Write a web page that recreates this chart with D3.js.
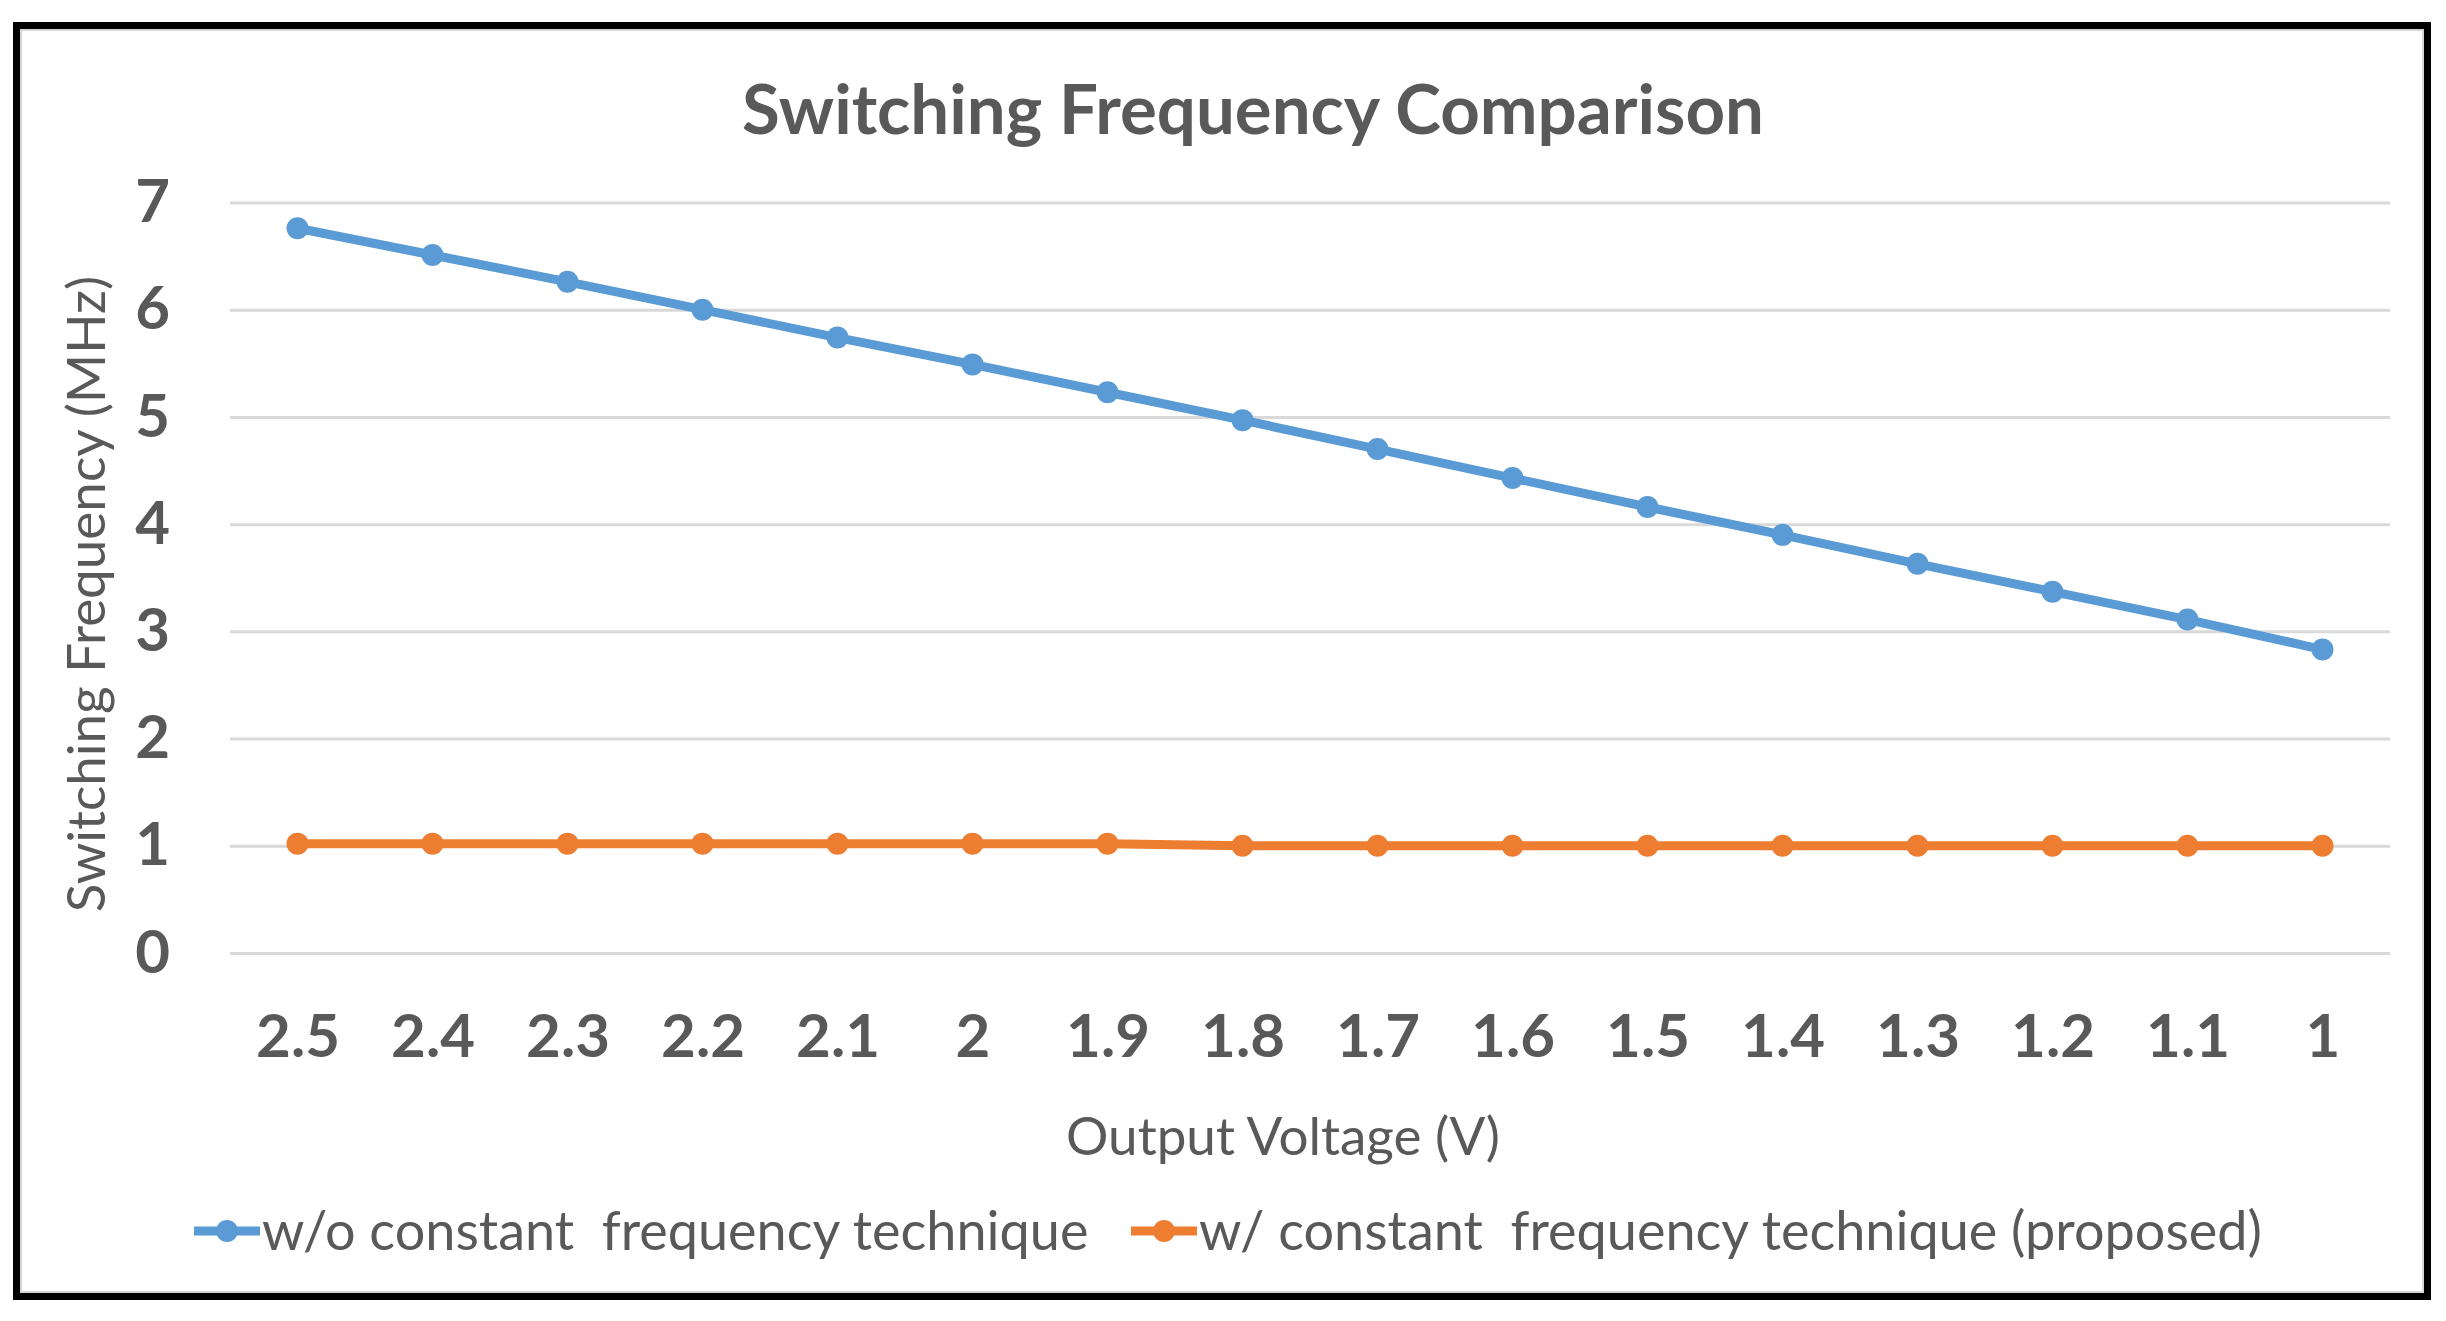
<!DOCTYPE html>
<html>
<head>
<meta charset="utf-8">
<script src="https://cdn.jsdelivr.net/npm/d3@7"></script>
<style>
  body { margin: 0; background: #fff; }
  text { font-family: Lato, "Open Sans", sans-serif; fill: #595959; }
</style>
</head>
<body>
<svg id="chart" width="2446" height="1321"></svg>
<script>
// output voltage categories (V), shown left to right
var voltages = ["2.5", "2.4", "2.3", "2.2", "2.1", "2", "1.9", "1.8", "1.7", "1.6", "1.5", "1.4", "1.3", "1.2", "1.1", "1"];
// switching frequency in MHz
var withoutCF = [6.76, 6.51, 6.26, 6.0, 5.74, 5.49, 5.23, 4.97, 4.70, 4.43, 4.16, 3.90, 3.63, 3.37, 3.11, 2.83];
var withCF = [1.02, 1.02, 1.02, 1.02, 1.02, 1.02, 1.02, 1.0, 1.0, 1.0, 1.0, 1.0, 1.0, 1.0, 1.0, 1.0];
var yTicks = [0, 1, 2, 3, 4, 5, 6, 7];
var seriesNames = ["w/o constant  frequency technique", "w/ constant  frequency technique (proposed)"];
var seriesColors = ["#5B9BD5", "#ED7D31"];

var svg = d3.select("#chart");

// frame around the whole picture
svg.append("rect")
  .attr("x", 16.5).attr("y", 25.5)
  .attr("width", 2411).attr("height", 1271)
  .attr("fill", "#fff").attr("stroke", "#000").attr("stroke-width", 7);
svg.append("rect")
  .attr("x", 21).attr("y", 30)
  .attr("width", 2402).attr("height", 1262)
  .attr("fill", "none").attr("stroke", "#d6d6d6").attr("stroke-width", 2);

var plotLeft = 230, plotRight = 2390, plotTop = 202.5, plotBottom = 953;

var xScale = d3.scalePoint()
  .domain(voltages)
  .range([plotLeft, plotRight])
  .padding(0.5);

var yScale = d3.scaleLinear()
  .domain([0, 7])
  .range([plotBottom, plotTop]);

// horizontal grid lines
var grid = d3.axisLeft(yScale)
  .tickValues(yTicks)
  .tickSize(-(plotRight - plotLeft))
  .tickFormat("");

svg.append("g")
  .attr("transform", "translate(" + plotLeft + ",0)")
  .call(grid)
  .call(function (g) { g.select(".domain").remove(); })
  .selectAll("line")
  .attr("stroke", "#d9d9d9")
  .attr("stroke-width", 3);

// left axis labels
var laxis = d3.axisLeft(yScale)
  .tickValues(yTicks)
  .tickFormat(d3.format("d"))
  .tickSize(0)
  .tickPadding(60);

svg.append("g")
  .attr("transform", "translate(" + plotLeft + ",0)")
  .call(laxis)
  .call(function (g) { g.select(".domain").remove(); })
  .selectAll("text")
  .style("font-family", "Lato, sans-serif")
  .style("font-size", "60px")
  .style("font-weight", "bold")
  .attr("fill", "#595959");

// bottom axis labels
var baxis = d3.axisBottom(xScale)
  .tickSize(0);

svg.append("g")
  .attr("transform", "translate(0," + plotBottom + ")")
  .call(baxis)
  .call(function (g) { g.select(".domain").remove(); })
  .selectAll("text")
  .attr("y", 83)
  .attr("dy", "0.35em")
  .style("font-family", "Lato, sans-serif")
  .style("font-size", "60px")
  .style("font-weight", "bold")
  .attr("fill", "#595959");

// series lines and markers
var allSeries = [withoutCF, withCF];

var myLine = d3.line()
  .x(function (d, i) { return xScale(voltages[i]); })
  .y(function (d) { return yScale(d); });

allSeries.forEach(function (data, s) {
  svg.append("path")
    .attr("d", myLine(data))
    .attr("fill", "none")
    .attr("stroke", seriesColors[s])
    .attr("stroke-width", 9)
    .attr("stroke-linejoin", "round");

  svg.append("g")
    .selectAll("circle")
    .data(data)
    .enter()
    .append("circle")
    .attr("cx", function (d, i) { return xScale(voltages[i]); })
    .attr("cy", function (d) { return yScale(d); })
    .attr("r", 11)
    .attr("fill", seriesColors[s]);
});

// titles
svg.append("text")
  .attr("x", 1253).attr("y", 110)
  .attr("text-anchor", "middle")
  .attr("dy", "0.35em")
  .style("font-size", "69px")
  .style("font-weight", "bold")
  .text("Switching Frequency Comparison");

svg.append("text")
  .attr("x", 1283).attr("y", 1136)
  .attr("text-anchor", "middle")
  .attr("dy", "0.35em")
  .style("font-size", "53px")
  .text("Output Voltage (V)");

svg.append("text")
  .attr("transform", "translate(86,594) rotate(-90)")
  .attr("text-anchor", "middle")
  .attr("dy", "0.35em")
  .style("font-size", "53px")
  .text("Switching Frequency (MHz)");

// legend
var legendX = [194, 1131];
var legend = svg.append("g");
seriesNames.forEach(function (name, s) {
  var g = legend.append("g").attr("transform", "translate(" + legendX[s] + ",1231)");
  g.append("line")
    .attr("x1", 0).attr("x2", 66)
    .attr("stroke", seriesColors[s]).attr("stroke-width", 9);
  g.append("circle").attr("cx", 33).attr("r", 11).attr("fill", seriesColors[s]);
  g.append("text")
    .attr("x", 68)
    .attr("dy", "0.35em")
    .style("font-size", "54px")
    .style("white-space", "pre")
    .text(name);
});
</script>
</body>
</html>
